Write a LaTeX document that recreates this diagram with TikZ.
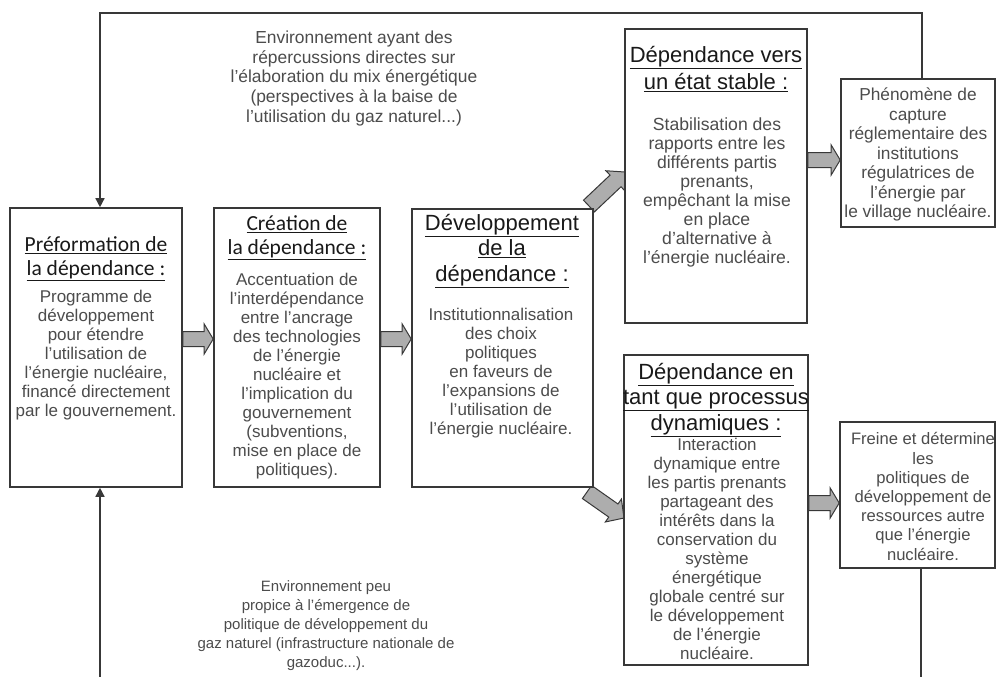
\documentclass[tikz,border=0pt]{standalone}
\usepackage{fontspec}
\setmainfont{Liberation Sans}
\newfontfamily\carl{Carlito}
\usetikzlibrary{arrows.meta,calc}
\definecolor{bodyc}{gray}{0.30}
\definecolor{titc}{gray}{0.10}
\definecolor{linec}{gray}{0.22}
\definecolor{arrfill}{gray}{0.68}
\pgfdeclarelayer{bg}
\pgfsetlayers{bg,main}
\newcommand\ft{\rule{0pt}{.95em}}
\newcommand\nols{\lineskiplimit=-50pt\relax}
\newcommand\fs[2]{\fontsize{#1}{#2}\selectfont\nols}
% block arrow: start, end, shaft half width, head half width, head length
\newcommand\blockarr[5]{%
  \draw[barrow] let \p1=(#1), \p2=(#2),
    \n1={atan2(\y2-\y1,\x2-\x1)}, \n2={veclen(\x2-\x1,\y2-\y1)} in
    [shift={(\p1)}, rotate=\n1]
    (0,-#3) -- ({\n2-#5},-#3) -- ({\n2-#5},-#4) -- (\n2,0) --
    ({\n2-#5},#4) -- ({\n2-#5},#3) -- (0,#3) -- cycle;}
\begin{document}
\begin{tikzpicture}[x=1pt,y=-1pt,
  box/.style={draw=linec, line width=1.6pt, fill=white, inner sep=0pt},
  txt/.style={anchor=north, inner sep=0pt, align=center},
  body/.style={txt, text=bodyc, font={\fs{17}{19}}},
  ttl/.style={txt, text=titc, font={\fs{22}{25.5}}},
  cttl/.style={txt, text=titc, font={\carl\fs{21.5}{23.5}}},
  conn/.style={draw=linec, line width=1.5pt},
  tip/.style={-{Triangle[width=9pt,length=9pt]}},
  barrow/.style={draw=linec, fill=arrfill, line width=1pt, line join=miter}
]
\useasboundingbox (0,0) rectangle (996,677);

% boxes
\node[box, minimum width=172pt, minimum height=279pt] (b1) at (96,347.5) {};
\node[box, minimum width=166pt, minimum height=279pt] (b2) at (297,347.5) {};
\node[box, minimum width=181pt, minimum height=278pt] (b3) at (502.5,348) {};
\node[box, minimum width=182pt, minimum height=294pt] (b4) at (716,176) {};
\node[box, minimum width=154pt, minimum height=148pt] (b5) at (918,153) {};
\node[box, minimum width=184pt, minimum height=310pt] (b6) at (716,510) {};
\node[box, minimum width=155pt, minimum height=146pt] (b7) at (917.5,495) {};

% helper coordinates
\coordinate (y339) at (0,339);
\coordinate (y160) at (0,160);
\coordinate (y503) at (0,503);
\coordinate (d1s) at (589,206);
\coordinate (d1e) at (625,172);
\coordinate (d2s) at (587,492);
\coordinate (d2e) at (624,518);
\coordinate (tl) at (100,13);
\coordinate (tr) at (922,13);
\coordinate (bl) at (100,700);
\coordinate (br) at (921,700);

% background and block arrows (behind boxes)
\begin{pgfonlayer}{bg}
\fill[white] (0,0) rectangle (996,677);
\blockarr{b1.east |- y339}{b2.west |- y339}{7.5}{15}{9}
\blockarr{b2.east |- y339}{b3.west |- y339}{7.5}{15}{9}
\blockarr{d1s}{d1e}{8}{14}{13}
\blockarr{d2s}{d2e}{8}{14}{13}
\blockarr{b4.east |- y160}{b5.west |- y160}{7.5}{15}{9}
\blockarr{b6.east |- y503}{b7.west |- y503}{7.5}{15}{9}
\end{pgfonlayer}

% feedback connectors
\draw[conn, tip] (b5.north -| tr) -- (tr) -- (tl) -- (b1.north -| tl);
\draw[conn, tip] (b7.south -| br) -- (br) -- (bl) -- (b1.south -| bl);

% environment texts
\node[txt, text=bodyc, font={\fs{17.4}{19.6}}] (envtop) at (354,27)
  {\ft Environnement ayant des\\répercussions directes sur\\l’élaboration du mix énergétique\\(perspectives à la baise de\\l’utilisation du gaz naturel...)};
\node[txt, text=bodyc, font={\fs{15}{19}}] (envbot) at (326,577)
  {\ft Environnement peu\\propice à l’émergence de\\politique de développement du\\gaz naturel (infrastructure nationale de\\gazoduc...).};

% box 1
\node[cttl] (t1) at (96,231) {\ft\underline{Préformation de}\\\underline{la dépendance :}};
\node[body] (x1) at (96,286) {\ft Programme de\\développement\\pour étendre\\l’utilisation de\\l’énergie nucléaire,\\financé directement\\par le gouvernement.};
% box 2
\node[cttl] (t2) at (297,210) {\ft\underline{Création de}\\\underline{la dépendance :}};
\node[body] (x2) at (297,269) {\ft Accentuation de\\l’interdépendance\\entre l’ancrage\\des technologies\\de l’énergie\\nucléaire et\\l’implication du\\gouvernement\\(subventions,\\mise en place de\\politiques).};
% box 3
\node[ttl] (t3) at (502,209) {\ft\underline{Développement}\\\underline{de la}\\\underline{dépendance :}};
\node[body] (x3) at (501,304) {\ft Institutionnalisation\\des choix\\politiques\\en faveurs de\\l’expansions de\\l’utilisation de\\l’énergie nucléaire.};
% box 4
\node[ttl, font={\fs{22}{27}}] (t4) at (716,41) {\ft\underline{Dépendance vers}\\\underline{un état stable :}};
\node[body, font={\fs{17.6}{19}}] (x4) at (717,114) {\ft Stabilisation des\\rapports entre les\\différents partis\\prenants,\\empêchant la mise\\en place\\d’alternative à\\l’énergie nucléaire.};
% box 5
\node[body, font={\fs{17.3}{19.5}}] (x5) at (918,84) {\ft Phénomène de\\capture\\réglementaire des\\institutions\\régulatrices de\\l’énergie par\\le village nucléaire.};
% box 6
\node[ttl] (t6) at (716,358) {\ft\underline{Dépendance en}\\\underline{tant que processus}\\\underline{dynamiques :}};
\node[body] (x6) at (717,434) {\ft Interaction\\dynamique entre\\les partis prenants\\partageant des\\intérêts dans la\\conservation du\\système\\énergétique\\globale centré sur\\le développement\\de l’énergie\\nucléaire.};
% box 7
\node[body, font={\fs{16.6}{19.2}}] (x7) at (923,429) {\ft Freine et détermine\\les\\politiques de\\développement de\\ressources autre\\que l’énergie\\nucléaire.};
\end{tikzpicture}
\end{document}
